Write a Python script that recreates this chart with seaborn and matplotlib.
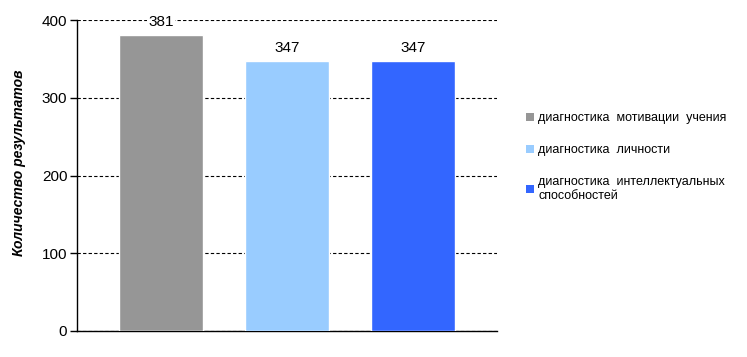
import matplotlib
matplotlib.use("Agg")
import matplotlib.pyplot as plt
import seaborn as sns
import pandas as pd
from matplotlib.patches import Patch

categories = ["диагностика  мотивации  учения",
              "диагностика  личности",
              "диагностика  интеллектуальных\nспособностей"]
values = [381, 347, 347]
colors = ["#969696", "#99CCFF", "#3366FF"]
y_ticks = [0, 100, 200, 300, 400]
y_label = "Количество результатов"

sns.set_style("white")
plt.rcParams["font.family"] = ["Liberation Sans", "DejaVu Sans"]
plt.rcParams["text.color"] = "black"
plt.rcParams["axes.labelcolor"] = "black"
plt.rcParams["ytick.color"] = "black"
plt.rcParams["xtick.color"] = "black"

df = pd.DataFrame({"cat": categories, "val": values})

fig = plt.figure(figsize=(7.47, 3.57), dpi=100)
ax = fig.add_axes([77/747, 26/357, 420/747, 311/357])
sns.barplot(data=df, x="cat", y="val", hue="cat", palette=colors,
            width=0.667, legend=False, ax=ax, saturation=1, zorder=3)

ax.set_ylim(0, 400)
ax.set_xlim(-0.667, 2.667)
ax.set_yticks(y_ticks)
ax.set_yticklabels([str(t) for t in y_ticks], fontsize=11)
ax.set_xticks([])
ax.set_xlabel("")
ax.set_ylabel(y_label, fontsize=10, fontweight="bold", fontstyle="italic")
ax.yaxis.set_label_coords(-0.121, 0.54)
ax.yaxis.grid(True, linestyle=(0, (3, 2)), color="black", linewidth=0.8, zorder=0)
ax.tick_params(axis="y", direction="out", length=5, width=1, color="black", left=True, pad=2)
for side in ["top", "right"]:
    ax.spines[side].set_visible(False)
for side in ["left", "bottom"]:
    ax.spines[side].set_color("black")
    ax.spines[side].set_linewidth(1)

for i, v in enumerate(values):
    ax.text(i, v + 8, str(v), ha="center", va="bottom", fontsize=11,
            bbox=dict(facecolor="white", edgecolor="none", pad=1), zorder=5)

handles = [Patch(facecolor=c, edgecolor="none") for c in colors]
leg = fig.legend(handles, categories, loc="upper left", bbox_to_anchor=(515/747, 1 - 101/357),
                 frameon=False, fontsize=9, handlelength=0.65, handleheight=0.65,
                 handletextpad=0.3, labelspacing=1.6)

fig.savefig("out.png", dpi=100)
